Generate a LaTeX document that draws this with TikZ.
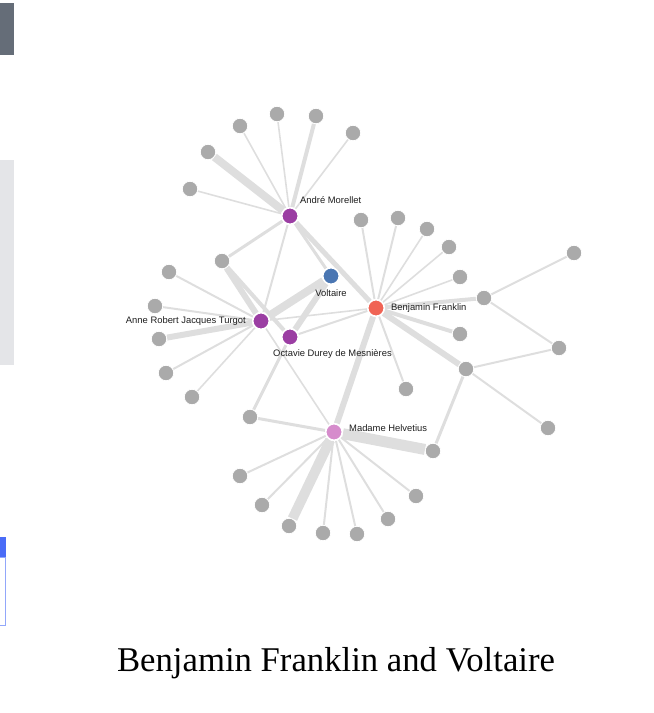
\documentclass[tikz,border=0pt]{standalone}
\usepackage{fontspec}
\setmainfont{Liberation Serif}
\newfontfamily\labelfont{Liberation Sans}
\usetikzlibrary{positioning,backgrounds}
\definecolor{nodegray}{RGB}{170,170,170}
\definecolor{linkgray}{RGB}{222,222,222}
\definecolor{labeltext}{RGB}{30,30,30}
\definecolor{purplenode}{RGB}{155,62,163}
\definecolor{bluenode}{RGB}{74,118,178}
\definecolor{rednode}{RGB}{240,100,85}
\definecolor{pinknode}{RGB}{214,140,204}
\definecolor{panelgray}{RGB}{101,109,120}
\definecolor{panellight}{RGB}{228,229,232}
\definecolor{panelblue}{RGB}{74,108,247}
\begin{document}
\begin{tikzpicture}[x=1pt,y=-1pt,
    dot/.style={circle,fill=nodegray,draw=white,line width=0.8pt,minimum size=15.5pt,inner sep=0pt},
    person/.style={dot,line width=1.5pt,minimum size=16.5pt},
    link/.style={color=linkgray,line width=1.6pt},
    lbl/.style={font=\labelfont\fontsize{9.4}{10}\selectfont,text=labeltext,inner sep=0pt}]
  \useasboundingbox (0,0) rectangle (654,713);
  % cut-off panels at the left edge
  \fill[panelgray] (0,3) rectangle (14,55);
  \fill[panellight] (0,160) rectangle (14,365);
  \fill[panelblue] (0,537) rectangle (6,557);
  \draw[panelblue!60,line width=1pt] (0,557) -- (5.5,557) -- (5.5,625) -- (0,625);
  % people
  \path
    (290,216) node[person,fill=purplenode] (morellet){}
    (331,276) node[person,fill=bluenode] (voltaire){}
    (376,308) node[person,fill=rednode] (franklin){}
    (261,321) node[person,fill=purplenode] (turgot){}
    (290,337) node[person,fill=purplenode] (octavie){}
    (334,432) node[person,fill=pinknode] (helvetius){};
  % others
  \path
    (240,126) node[dot] (a1){}
    (277,114) node[dot] (a2){}
    (316,116) node[dot] (a3){}
    (353,133) node[dot] (a4){}
    (208,152) node[dot] (a5){}
    (190,189) node[dot] (a6){}
    (222,261) node[dot] (a7){}
    (361,220) node[dot] (b1){}
    (398,218) node[dot] (b2){}
    (427,229) node[dot] (b3){}
    (449,247) node[dot] (b4){}
    (460,277) node[dot] (b5){}
    (484,298) node[dot] (b6){}
    (574,253) node[dot] (b7){}
    (460,334) node[dot] (b8){}
    (559,348) node[dot] (b9){}
    (466,369) node[dot] (b10){}
    (406,389) node[dot] (b11){}
    (548,428) node[dot] (b12){}
    (169,272) node[dot] (t1){}
    (155,306) node[dot] (t2){}
    (159,339) node[dot] (t3){}
    (166,373) node[dot] (t4){}
    (192,397) node[dot] (t5){}
    (250,417) node[dot] (h1){}
    (433,451) node[dot] (h2){}
    (240,476) node[dot] (h3){}
    (262,505) node[dot] (h4){}
    (289,526) node[dot] (h5){}
    (323,533) node[dot] (h6){}
    (357,534) node[dot] (h7){}
    (388,519) node[dot] (h8){}
    (416,496) node[dot] (h9){};
  % labels
  \node[lbl,anchor=west] (morelletlbl) at ([xshift=10pt,yshift=16pt]morellet.center) {André Morellet};
  \node[lbl,below=4pt of voltaire] (voltairelbl) {Voltaire};
  \node[lbl,right=6pt of franklin] (franklinlbl) {Benjamin Franklin};
  \node[lbl,left=6pt of turgot] (turgotlbl) {Anne Robert Jacques Turgot};
  \node[lbl,anchor=north west] (octavielbl) at ([xshift=-17pt,yshift=-12pt]octavie.center) {Octavie Durey de Mesnières};
  \node[lbl,anchor=west] (helvetiuslbl) at ([xshift=15pt,yshift=4pt]helvetius.center) {Madame Helvetius};
  \node[font=\fontsize{34.7}{40}\selectfont,anchor=base] (title) at (336,671) {Benjamin Franklin and Voltaire};
  \begin{scope}[on background layer]
  \begin{scope}[link]
    % Morellet
    \draw (morellet) to (a1);
    \draw (morellet) to (a2);
    \draw[line width=4pt] (morellet) to (a3);
    \draw (morellet) to (a4);
    \draw[line width=8pt] (morellet) to (a5);
    \draw (morellet) to (a6);
    \draw[line width=3pt] (morellet) to (a7);
    \draw[line width=2pt] (morellet) to (turgot);
    \draw[line width=3pt] (morellet) to (voltaire);
    \draw[line width=5pt] (morellet) to (franklin);
    % Franklin
    \draw[line width=2pt] (franklin) to (b1);
    \draw[line width=2pt] (franklin) to (b2);
    \draw (franklin) to (b3);
    \draw (franklin) to (b4);
    \draw (franklin) to (b5);
    \draw[line width=4pt] (franklin) to (b6);
    \draw[line width=4pt] (franklin) to (b8);
    \draw[line width=6pt] (franklin) to (b10);
    \draw[line width=2pt] (franklin) to (b11);
    \draw[line width=6pt] (franklin) to (helvetius);
    \draw (franklin) to (turgot);
    \draw[line width=2pt] (franklin) to (octavie);
    \draw[line width=2pt] (b6) to (b7);
    \draw[line width=2pt] (b6) to (b9);
    \draw[line width=2pt] (b10) to (b9);
    \draw[line width=2pt] (b10) to (b12);
    \draw[line width=3pt] (b10) to (h2);
    % Turgot
    \draw[line width=2pt] (turgot) to (t1);
    \draw[line width=2pt] (turgot) to (t2);
    \draw[line width=6pt] (turgot) to (t3);
    \draw[line width=2pt] (turgot) to (t4);
    \draw (turgot) to (t5);
    \draw[line width=6pt] (turgot) to (a7);
    \draw[line width=8pt] (turgot) to (voltaire);
    \draw (turgot) to (helvetius);
    % Octavie
    \draw[line width=6pt] (octavie) to (voltaire);
    \draw[line width=4pt] (octavie) to (a7);
    \draw[line width=3pt] (octavie) to (h1);
    % Helvetius
    \draw[line width=3pt] (helvetius) to (h1);
    \draw[line width=11pt] (helvetius) to (h2);
    \draw[line width=2pt] (helvetius) to (h3);
    \draw[line width=2pt] (helvetius) to (h4);
    \draw[line width=10pt] (helvetius) to (h5);
    \draw[line width=2pt] (helvetius) to (h6);
    \draw[line width=2pt] (helvetius) to (h7);
    \draw[line width=2pt] (helvetius) to (h8);
    \draw[line width=2pt] (helvetius) to (h9);
  \end{scope}
  \end{scope}
\end{tikzpicture}
\end{document}
